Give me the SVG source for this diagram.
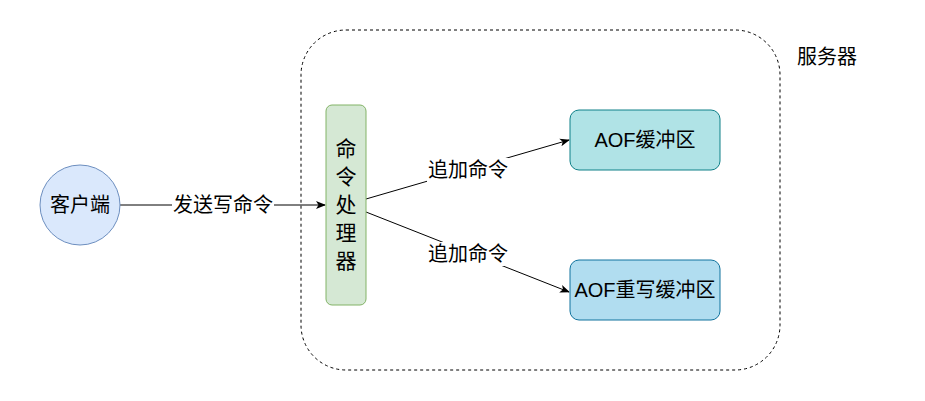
<svg xmlns="http://www.w3.org/2000/svg" width="925" height="401" viewBox="0 0 925 401">
<style>
text{font-family:"Liberation Sans","Noto Sans CJK SC",sans-serif;font-size:20px;fill:#000;text-anchor:middle;dominant-baseline:central}
.edge{stroke:#000;stroke-width:1;fill:none}
.lbg{fill:#fff}
</style>
<defs>
<marker id="arr" viewBox="0 0 10 10" refX="9" refY="5" markerWidth="10" markerHeight="10" markerUnits="userSpaceOnUse" orient="auto">
<path d="M0,1 L10,5 L0,9 L2.5,5 Z" fill="#000"/>
</marker>
</defs>
<rect width="925" height="401" fill="#fff"/>
<g id="server">
<rect x="301" y="30" width="479" height="340" rx="45" ry="45" fill="none" stroke="#000" stroke-dasharray="3 3"/>
<text x="827" y="57">服务器</text>
</g>
<g id="connectors">
<line class="edge" x1="120" y1="205" x2="325" y2="205" marker-end="url(#arr)"/>
<line class="edge" x1="366" y1="199" x2="569" y2="140" marker-end="url(#arr)"/>
<line class="edge" x1="366" y1="212" x2="569" y2="292" marker-end="url(#arr)"/>
<rect class="lbg" x="172" y="193" width="102" height="24"/>
<text x="223" y="205">发送写命令</text>
<rect class="lbg" x="427" y="158" width="82" height="24"/>
<text x="468" y="170">追加命令</text>
<rect class="lbg" x="427" y="242" width="82" height="24"/>
<text x="468" y="254">追加命令</text>
</g>
<g id="client">
<circle cx="80" cy="205" r="40" fill="#dae8fc" stroke="#6c8ebf"/>
<text x="80" y="205">客户端</text>
</g>
<g id="processor">
<rect x="326" y="105" width="40" height="200" rx="6" ry="6" fill="#d5e8d4" stroke="#82b366"/>
<text x="346" y="148" style="font-size:21px">命</text>
<text x="346" y="176" style="font-size:21px">令</text>
<text x="346" y="204" style="font-size:21px">处</text>
<text x="346" y="232" style="font-size:21px">理</text>
<text x="346" y="260" style="font-size:21px">器</text>
</g>
<g id="aof-buffer">
<rect x="570" y="110" width="150" height="60" rx="9" ry="9" fill="#b0e3e6" stroke="#0e8088"/>
<text x="645" y="140">AOF缓冲区</text>
</g>
<g id="aof-rewrite-buffer">
<rect x="570" y="260" width="150" height="60" rx="9" ry="9" fill="#b1ddf0" stroke="#10739e"/>
<text x="645" y="290">AOF重写缓冲区</text>
</g>
</svg>
